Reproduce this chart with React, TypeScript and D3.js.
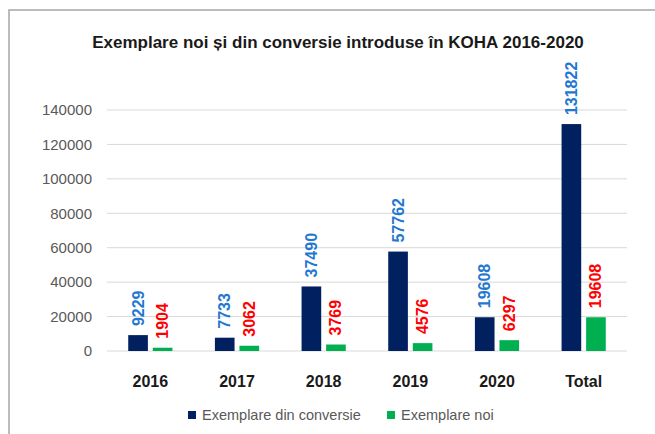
import React, { useEffect, useRef } from 'react';
import * as d3 from 'd3';

// Data
const categories = ['2016', '2017', '2018', '2019', '2020', 'Total'];
const seriesNames = ['Exemplare din conversie', 'Exemplare noi'];
const conversie = [9229, 7733, 37490, 57762, 19608, 131822];
const noi = [1904, 3062, 3769, 4576, 6297, 19608];
const yTicks = [0, 20000, 40000, 60000, 80000, 100000, 120000, 140000];

const barColors = ['#002060', '#00b050'];
const labelColors = ['#1f78d1', '#ff0000'];

const App = () => {
  const svgRef = useRef<SVGSVGElement>(null);

  useEffect(() => {
    const width = 655;
    const height = 434;
    const plot = { left: 107, right: 627, top: 110, bottom: 351 };
    const font = '"Liberation Sans", Arial, sans-serif';

    const svg = d3.select(svgRef.current)
      .attr('width', width)
      .attr('height', height)
      .style('display', 'block')
      .style('position', 'absolute')
      .style('left', '0px')
      .style('top', '0px')
      .style('font-family', font);

    svg.selectAll('*').remove();

    // Frame
    svg.append('rect')
      .attr('x', 9).attr('y', 10)
      .attr('width', width + 20).attr('height', height + 20)
      .attr('fill', '#fff')
      .attr('stroke', '#a6a6a6')
      .attr('stroke-width', 1.5);

    // Title
    svg.append('text')
      .attr('x', 338).attr('y', 48)
      .attr('text-anchor', 'middle')
      .attr('font-size', 17)
      .attr('font-weight', 'bold')
      .attr('fill', '#1a1a1a')
      .text('Exemplare noi și din conversie introduse în KOHA 2016-2020');

    // Scales
    const x = d3.scaleBand()
      .domain(categories)
      .range([plot.left, plot.right])
      .paddingInner(0.49)
      .paddingOuter(0.245);

    const xSub = d3.scaleBand()
      .domain(seriesNames)
      .range([0, x.bandwidth()])
      .paddingInner(0.2);

    const y = d3.scaleLinear()
      .domain([0, 140000])
      .range([plot.bottom, plot.top]);

    // Grid
    svg.append('g')
      .selectAll('line')
      .data(yTicks)
      .join('line')
      .attr('x1', plot.left).attr('x2', plot.right)
      .attr('y1', d => y(d)).attr('y2', d => y(d))
      .attr('stroke', '#d9d9d9')
      .attr('stroke-width', 1);

    // Y axis labels
    svg.append('g')
      .selectAll('text')
      .data(yTicks)
      .join('text')
      .attr('x', 92)
      .attr('y', d => y(d))
      .attr('dy', '0.35em')
      .attr('text-anchor', 'end')
      .attr('font-size', 15)
      .attr('fill', '#595959')
      .text(d => String(d));

    const series = [conversie, noi];

    series.forEach((vals, si) => {
      const g = svg.append('g');
      g.selectAll('rect')
        .data(vals)
        .join('rect')
        .attr('x', (_, i) => (x(categories[i]) as number) + (xSub(seriesNames[si]) as number))
        .attr('y', d => y(d))
        .attr('width', xSub.bandwidth())
        .attr('height', d => y(0) - y(d))
        .attr('fill', barColors[si]);

      g.selectAll('text')
        .data(vals)
        .join('text')
        .attr('transform', (d, i) => {
          const cx = (x(categories[i]) as number) + (xSub(seriesNames[si]) as number) + xSub.bandwidth() / 2;
          return `translate(${cx},${y(d) - 9}) rotate(-90)`;
        })
        .attr('dominant-baseline', 'central')
        .attr('text-anchor', 'start')
        .attr('font-size', 16)
        .attr('font-weight', 'bold')
        .attr('fill', labelColors[si])
        .text(d => String(d));
    });

    // X axis labels
    svg.append('g')
      .selectAll('text')
      .data(categories)
      .join('text')
      .attr('x', d => (x(d) as number) + x.bandwidth() / 2)
      .attr('y', 387)
      .attr('text-anchor', 'middle')
      .attr('font-size', 16)
      .attr('font-weight', 'bold')
      .attr('fill', '#1a1a1a')
      .text(d => d);

    // Legend
    const legendX = [188, 387];
    const legend = svg.append('g');
    seriesNames.forEach((name, i) => {
      legend.append('rect')
        .attr('x', legendX[i]).attr('y', 411)
        .attr('width', 8).attr('height', 8)
        .attr('fill', barColors[i]);
      legend.append('text')
        .attr('x', legendX[i] + 14).attr('y', 420)
        .attr('font-size', 14.5)
        .attr('fill', '#595959')
        .text(name);
    });
  }, []);

  return <svg ref={svgRef}></svg>;
};

export default App;
